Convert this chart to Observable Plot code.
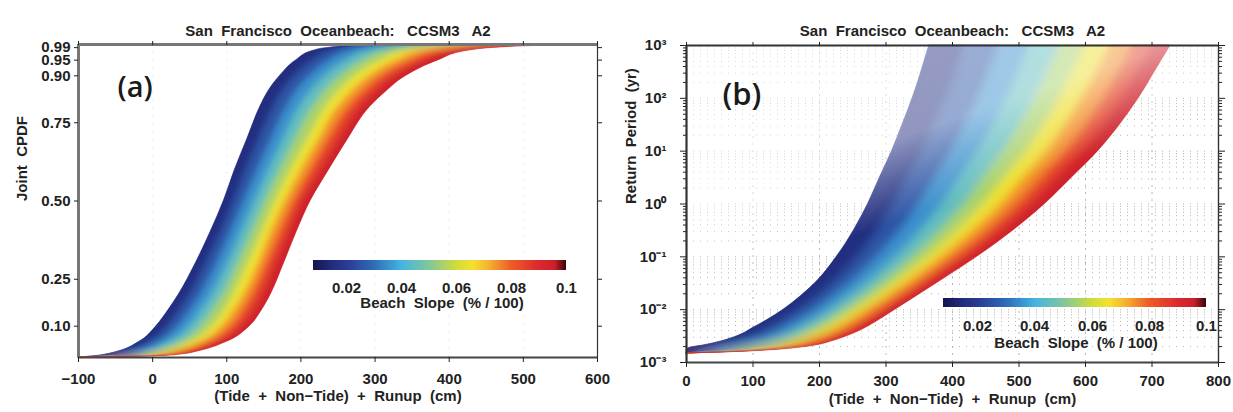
<!DOCTYPE html>
<html>
<head>
<meta charset="utf-8">
<script src="https://cdn.jsdelivr.net/npm/d3@7"></script>
<script src="https://cdn.jsdelivr.net/npm/@observablehq/plot@0.6"></script>
<style>
html, body { margin: 0; padding: 0; background: #fff; }
#wrap { position: relative; width: 1233px; height: 412px; overflow: hidden; background: #fff; font-family: "Liberation Sans", Arial, sans-serif; }
#wrap > * { position: absolute; }
.cblabel { font-weight: bold; font-size: 15px; color: #222; text-align: center; width: 300px; line-height: 18px; white-space: pre; }
</style>
</head>
<body>
<div id="wrap"></div>
<script>
// ---------------- DATA ----------------
const slopes = [0.01, 0.02, 0.03, 0.04, 0.05, 0.06, 0.07, 0.08, 0.09, 0.10];

// Panel (a): joint CPDF levels and runup level (cm) of each beach-slope curve at those levels
const cpdfLevels = [0, 0.005, 0.01, 0.02, 0.05, 0.10, 0.15, 0.20, 0.30, 0.40, 0.50, 0.60, 0.70, 0.80, 0.85, 0.90, 0.95, 0.98, 0.99, 0.995, 1.0];
const cpdfSlope01 = [-100, -75, -62, -45, -18, 5, 21, 35, 58, 78, 96, 111, 128, 145, 156, 172, 194, 217, 240, 270, 340];
const cpdfSlope02 = [-100, -64, -50, -32, -4, 20, 36, 50, 72, 92, 110, 126, 144, 163, 175, 192, 217, 242, 267, 299, 371];
const cpdfSlope03 = [-100, -53, -38, -19, 10, 35, 51, 65, 87, 106, 124, 142, 161, 181, 194, 213, 240, 267, 294, 328, 402];
const cpdfSlope04 = [-100, -43, -25, -6, 24, 50, 66, 80, 101, 120, 138, 157, 177, 198, 213, 233, 263, 292, 321, 356, 434];
const cpdfSlope05 = [-100, -32, -13, 6, 39, 65, 81, 95, 115, 134, 152, 172, 193, 216, 232, 254, 286, 317, 348, 385, 465];
const cpdfSlope06 = [-100, -21, -1, 19, 53, 81, 97, 109, 129, 148, 166, 187, 210, 234, 251, 274, 309, 342, 375, 414, 496];
const cpdfSlope07 = [-100, -11, 10, 31, 66, 94, 110, 123, 143, 160, 179, 201, 225, 250, 269, 293, 330, 365, 400, 440, 525];
const cpdfSlope08 = [-100, -2, 21, 42, 78, 107, 123, 135, 154, 172, 191, 214, 238, 265, 285, 310, 350, 386, 422, 464, 551];
const cpdfSlope09 = [-100, 7, 31, 52, 89, 120, 136, 148, 166, 184, 202, 227, 252, 280, 301, 327, 369, 406, 445, 488, 577];
const cpdfSlope10 = [-100, 15, 40, 62, 100, 131, 147, 159, 177, 194, 213, 238, 264, 293, 315, 342, 386, 425, 465, 510, 600];

// Panel (b): return periods (yr) and runup level (cm) of each beach-slope curve at those periods
const returnLevels = [0.00148, 0.0016, 0.0017, 0.0019, 0.0021, 0.0025, 0.0032, 0.0045, 0.0063, 0.01, 0.018, 0.032, 0.1, 0.32, 1, 3.2, 10, 32, 100, 316, 1000];
const rpSlope01 = [0, 0, 0, 5, 25, 52, 78, 100, 121, 146, 172, 194, 226, 252, 273, 291, 309, 325, 340, 353, 365];
const rpSlope02 = [0, 13, 19, 30, 50, 77, 103, 125, 146, 171, 198, 221, 258, 288, 313, 334, 356, 374, 391, 406, 419];
const rpSlope03 = [0, 25, 36, 53, 74, 100, 126, 149, 170, 195, 222, 247, 287, 322, 350, 375, 399, 420, 439, 455, 470];
const rpSlope04 = [0, 36, 53, 74, 96, 122, 147, 171, 192, 217, 245, 271, 315, 353, 385, 412, 439, 462, 483, 500, 517];
const rpSlope05 = [0, 46, 68, 94, 116, 142, 167, 191, 212, 237, 266, 293, 340, 382, 417, 447, 476, 502, 524, 543, 561];
const rpSlope06 = [0, 55, 81, 112, 135, 160, 185, 210, 230, 255, 285, 313, 363, 408, 446, 479, 511, 538, 561, 581, 601];
const rpSlope07 = [0, 64, 94, 128, 152, 177, 202, 227, 247, 272, 302, 331, 384, 432, 473, 508, 542, 570, 595, 616, 637];
const rpSlope08 = [0, 71, 105, 143, 167, 191, 217, 242, 262, 287, 318, 348, 403, 454, 496, 534, 569, 600, 626, 648, 670];
const rpSlope09 = [0, 78, 115, 156, 180, 205, 230, 255, 276, 301, 332, 362, 420, 473, 518, 557, 594, 626, 653, 676, 699];
const rpSlope10 = [0, 85, 125, 169, 194, 218, 243, 269, 289, 314, 346, 377, 437, 492, 539, 580, 619, 652, 680, 704, 728];

// Axes, ticks and labels
const aXDomain = [-100, 600];
const aYDomain = [0, 1];
const aXTicks = [-100, 0, 100, 200, 300, 400, 500, 600];
const aXTickLabels = ["\u2212100", "0", "100", "200", "300", "400", "500", "600"];
const aYTicks = [0.10, 0.25, 0.50, 0.75, 0.90, 0.95, 0.99];
const aYTickLabels = ["0.10", "0.25", "0.50", "0.75", "0.90", "0.95", "0.99"];
const bXDomain = [0, 800];
const bYDomain = [0.001, 1000];
const bXTicks = [0, 100, 200, 300, 400, 500, 600, 700, 800];
const bYTicks = [0.001, 0.01, 0.1, 1, 10, 100, 1000];
const bYTickLabels = ["10\u207B\u00B3", "10\u207B\u00B2", "10\u207B\u00B9", "10\u2070", "10\u00B9", "10\u00B2", "10\u00B3"];
const cbDomain = [0.008, 0.1];
const cbTicks = [0.02, 0.04, 0.06, 0.08, 0.1];
const cbTickLabels = ["0.02", "0.04", "0.06", "0.08", "0.1"];

const titleText = "San  Francisco  Oceanbeach:   CCSM3   A2";
const xLabelText = "(Tide  +  Non\u2212Tide)  +  Runup  (cm)";
const aYLabelText = "Joint  CPDF";
const bYLabelText = "Return  Period  (yr)";
const cbLabelText = "Beach  Slope  (% / 100)";

// ---------------- STYLE ----------------
const FONT = "'Liberation Sans', Arial, Helvetica, sans-serif";
const paletteStops = [0.008, 0.015, 0.02, 0.03, 0.04, 0.05, 0.06, 0.066, 0.072, 0.08, 0.09, 0.096, 0.1];
const paletteColors = ["#15154f", "#232e80", "#2a3b94", "#2f6cb8", "#44b4e2", "#80c79c", "#cfdc3c", "#f4e22e", "#f6b12f", "#ee5d27", "#dc2a2e", "#cc1f2a", "#3a0810"];
const pal = d3.scaleLinear().domain(paletteStops).range(paletteColors).interpolate(d3.interpolateRgb).clamp(true);
const slopeColor = t => pal(cbDomain[0] + t * (cbDomain[1] - cbDomain[0]));
const colorOpts = {type: "linear", domain: cbDomain, interpolate: slopeColor};

const cpdfCurves = [cpdfSlope01, cpdfSlope02, cpdfSlope03, cpdfSlope04, cpdfSlope05, cpdfSlope06, cpdfSlope07, cpdfSlope08, cpdfSlope09, cpdfSlope10];
const rpCurves = [rpSlope01, rpSlope02, rpSlope03, rpSlope04, rpSlope05, rpSlope06, rpSlope07, rpSlope08, rpSlope09, rpSlope10];

function bandRows(curves, levels) {
  const rows = [];
  for (let i = 0; i < curves.length - 1; i++) {
    for (let j = 0; j < levels.length; j++) {
      rows.push({band: i, y: levels[j], x1: curves[i][j], x2: curves[i + 1][j], s: (slopes[i] + slopes[i + 1]) / 2});
    }
  }
  return rows;
}
const bandsA = bandRows(cpdfCurves, cpdfLevels);
const bandsB = bandRows(rpCurves, returnLevels);

const bMinor = [];
for (let k = 0; k < bYTicks.length - 1; k++) for (let m = 2; m <= 9; m++) bMinor.push(m * bYTicks[k]);

const svgStyle = {fontFamily: FONT, fontSize: "15px", fontWeight: "bold", color: "#222", background: "transparent", overflow: "visible", whiteSpace: "pre"};
const blank = () => "";

const plotA = Plot.plot({
  width: 615, height: 412, marginLeft: 78, marginRight: 18, marginTop: 44, marginBottom: 55,
  style: svgStyle,
  x: {domain: aXDomain, label: null},
  y: {domain: aYDomain, label: null},
  color: colorOpts,
  marks: [
    Plot.ruleX(aXTicks.slice(1, -1), {stroke: "#cfcfcf", strokeDasharray: "1,7", strokeWidth: 0.8}),
    Plot.areaX(bandsA, {y: "y", x1: "x1", x2: "x2", z: "band", fill: "s", stroke: "s", strokeWidth: 0.6, curve: "monotone-y"}),
    Plot.ruleX([aXDomain[0]], {stroke: "#777", strokeWidth: 3}),
    Plot.ruleY([aYDomain[1]], {stroke: "#777", strokeWidth: 3}),
    Plot.ruleY([aYDomain[0]], {stroke: "#444", strokeWidth: 2}),
    Plot.ruleX([aXDomain[1]], {stroke: "#333", strokeWidth: 1.2}),
    Plot.axisX(aXTicks, {anchor: "bottom", tickSize: 5, tickPadding: 11, tickFormat: d => aXTickLabels[aXTicks.indexOf(d)], label: null}),
    Plot.axisX(aXTicks, {anchor: "top", tickSize: 4, tickFormat: blank, label: null}),
    Plot.axisY(aYTicks, {anchor: "left", tickSize: 4, tickPadding: 4, tickFormat: d => aYTickLabels[aYTicks.indexOf(d)], label: null}),
    Plot.axisY(aYTicks, {anchor: "right", tickSize: 4, tickFormat: blank, label: null}),
    Plot.text([titleText], {frameAnchor: "top", dy: -19, fontSize: 15, fontWeight: "bold"}),
    Plot.text(["(a)"], {frameAnchor: "top-left", dx: 39, dy: 32, fontSize: 29, fontFamily: "'Open Sans', sans-serif", fontWeight: 600, fill: "#1a1a1a"}),
    Plot.text([aYLabelText], {frameAnchor: "left", dx: -56, rotate: -90, fontSize: 15}),
    Plot.text([xLabelText], {frameAnchor: "bottom", dy: 43, fontSize: 15})
  ]
});

const plotB = Plot.plot({
  width: 618, height: 412, marginLeft: 71, marginRight: 15, marginTop: 45, marginBottom: 50,
  style: svgStyle,
  x: {domain: bXDomain, label: null},
  y: {type: "log", domain: bYDomain, label: null},
  color: colorOpts,
  marks: [
    Plot.ruleY(bMinor, {stroke: "#9a9a9a", strokeWidth: 0.8, strokeDasharray: "1,6"}),
    Plot.ruleY(bYTicks.slice(1, -1), {stroke: "#9a9a9a", strokeWidth: 0.8, strokeDasharray: "1,6"}),
    Plot.ruleX(bXTicks.slice(1, -1), {stroke: "#a8a8a8", strokeWidth: 0.8, strokeDasharray: "2,5"}),
    Plot.areaX(bandsB, {y: "y", x1: "x1", x2: "x2", z: "band", fill: "s", stroke: "s", strokeWidth: 0.6, curve: "monotone-y"}),
    Plot.frame({fill: "url(#fadeB)", stroke: "none"}),
    Plot.ruleX([bXDomain[0]], {stroke: "#333", strokeWidth: 2.2}),
    Plot.ruleY([bYDomain[1]], {stroke: "#333", strokeWidth: 2}),
    Plot.ruleY([bYDomain[0]], {stroke: "#444", strokeWidth: 2.2}),
    Plot.ruleX([bXDomain[1]], {stroke: "#333", strokeWidth: 1.4}),
    Plot.axisX(bXTicks, {anchor: "bottom", tickSize: 5, tickPadding: 8, label: null}),
    Plot.axisX(bXTicks, {anchor: "top", tickSize: 4, tickFormat: blank, label: null}),
    Plot.axisY(bYTicks, {anchor: "left", tickSize: 6, tickPadding: 14, tickFormat: d => bYTickLabels[bYTicks.indexOf(d)], label: null}),
    Plot.axisY(bMinor, {anchor: "left", tickSize: 3, tickFormat: blank, label: null}),
    Plot.axisY(bYTicks, {anchor: "right", tickSize: 6, tickFormat: blank, label: null}),
    Plot.axisY(bMinor, {anchor: "right", tickSize: 3, tickFormat: blank, label: null}),
    Plot.text([titleText], {frameAnchor: "top", dy: -20, fontSize: 15, fontWeight: "bold"}),
    Plot.text(["(b)"], {frameAnchor: "top-left", dx: 36, dy: 37, fontSize: 31, fontFamily: "'Open Sans', sans-serif", fontWeight: 600, fill: "#1a1a1a"}),
    Plot.text([bYLabelText], {frameAnchor: "left", dx: -55, rotate: -90, fontSize: 15}),
    Plot.text([xLabelText], {frameAnchor: "bottom", dy: 41, fontSize: 15})
  ]
});

// defs: smoothing of the colour steps (blur clipped to the band outline) and a whitening fade for panel (b)
const NS = "http://www.w3.org/2000/svg";
function el(name, attrs, parent) {
  const e = document.createElementNS(NS, name);
  for (const k in attrs) e.setAttribute(k, attrs[k]);
  if (parent) parent.appendChild(e);
  return e;
}
function soften(svg, id, std, withFade) {
  const defs = el("defs", {});
  svg.insertBefore(defs, svg.firstChild);
  const f = el("filter", {id: id + "blur", x: "-10%", y: "-10%", width: "120%", height: "120%"}, defs);
  el("feGaussianBlur", {stdDeviation: String(std)}, f);
  if (withFade) {
    const g = el("linearGradient", {id: "fadeB", x1: "0", y1: "0", x2: "0.494", y2: "0.87"}, defs);
    el("stop", {offset: "0", "stop-color": "#fff", "stop-opacity": "0.55"}, g);
    el("stop", {offset: "0.45", "stop-color": "#fff", "stop-opacity": "0.5"}, g);
    el("stop", {offset: "0.68", "stop-color": "#fff", "stop-opacity": "0"}, g);
    el("stop", {offset: "1", "stop-color": "#fff", "stop-opacity": "0"}, g);
  }
  const areaG = svg.querySelector('g[aria-label="area"]');
  if (!areaG) return;
  const base = areaG.cloneNode(true);
  areaG.parentNode.insertBefore(base, areaG);
  const cp = el("clipPath", {id: id + "clip"}, defs);
  areaG.querySelectorAll("path").forEach(p => el("path", {d: p.getAttribute("d")}, cp));
  areaG.setAttribute("filter", `url(#${id}blur)`);
  areaG.setAttribute("clip-path", `url(#${id}clip)`);
}
const svgA = plotA.tagName.toLowerCase() === "svg" ? plotA : plotA.querySelector("svg");
const svgB = plotB.tagName.toLowerCase() === "svg" ? plotB : plotB.querySelector("svg");
soften(svgA, "sa", 3, false);
soften(svgB, "sb", 5, true);

function makeLegend(rampWidth, rampHeight, tickSize) {
  const m = 15;
  const leg = Plot.legend({
    color: colorOpts,
    width: rampWidth + 2 * m, height: rampHeight + tickSize + 24,
    marginLeft: m, marginRight: m, marginTop: 0, marginBottom: tickSize + 24,
    tickSize, ticks: cbTicks, tickFormat: d => cbTickLabels[cbTicks.indexOf(d)],
    label: null,
    style: {fontFamily: FONT, fontSize: "15px", fontWeight: "bold", color: "#222", background: "transparent", overflow: "visible"}
  });
  leg.querySelectorAll(".tick line").forEach(n => n.remove());
  leg.querySelectorAll(".tick text").forEach(t => { t.setAttribute("font-size", "15"); t.setAttribute("font-weight", "bold"); });
  return leg;
}

const wrap = document.getElementById("wrap");
plotA.style.left = "0px"; plotA.style.top = "0px";
plotB.style.left = "615px"; plotB.style.top = "0px";
wrap.appendChild(plotA);
wrap.appendChild(plotB);

function place(node, left, top) {
  const d = document.createElement("div");
  d.style.left = left + "px"; d.style.top = top + "px";
  d.appendChild(node);
  wrap.appendChild(d);
  return d;
}
place(makeLegend(253, 10, 9), 313 - 15, 260);
place(makeLegend(263, 9, 10), 943 - 15, 298);

function cbLabel(cx, cy) {
  const d = document.createElement("div");
  d.className = "cblabel";
  d.textContent = cbLabelText;
  d.style.left = (cx - 150) + "px";
  d.style.top = (cy - 9) + "px";
  wrap.appendChild(d);
}
cbLabel(442, 303);
cbLabel(1076, 343);
</script>
</body>
</html>
